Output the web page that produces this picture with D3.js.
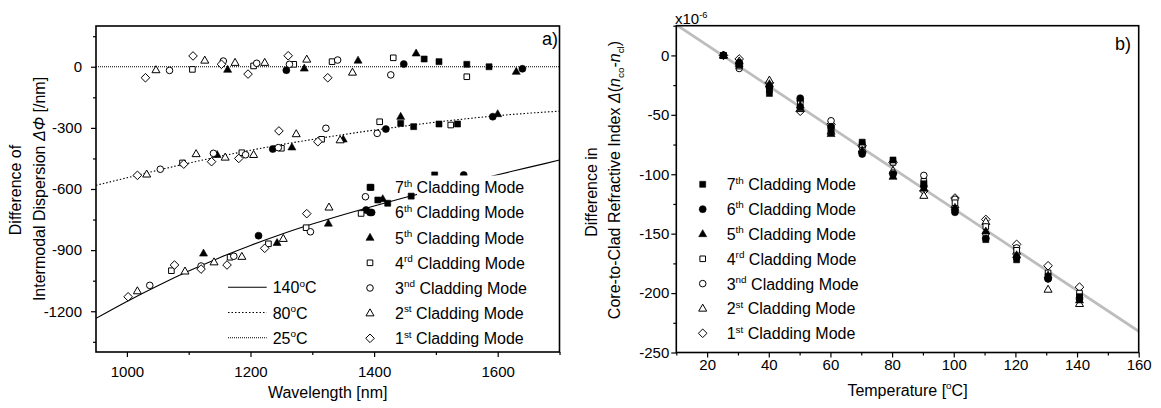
<!DOCTYPE html>
<html><head><meta charset="utf-8">
<script src="https://cdn.jsdelivr.net/npm/d3@7"></script>
<style>
body{margin:0;background:#fff;}
svg text{font-family:"Liberation Sans",Arial,sans-serif;fill:#000;}
</style></head><body>
<svg id="c" width="1161" height="408"></svg>
<script>
// ---------------- DATA ----------------
const modeNum = ["7","6","5","4","3","2","1"];
const modeSup = ["th","th","th","rd","nd","st","st"];
const modeShape = ["square","circle","triangle","square","circle","triangle","diamond"];
const modeFilled = [true,true,true,false,false,false,false];

// panel a) : [wavelength nm, dispersion difference /nm], one list per mode (7th..1st)
const disp25 = [
  [[1481,38],[1505,25],[1550,12],[1586,0]],
  [[1258,-17],[1448,13],[1640,-10]],
  [[1163,-14],[1287,-8],[1374,31],[1468,66],[1630,-24]],
  [[1106,-13],[1205,4],[1270,12],[1332,25],[1431,44],[1550,-49]],
  [[1069,-18],[1156,28],[1210,17],[1263,12],[1341,33],[1427,-40]],
  [[1047,-16],[1126,31],[1175,20],[1223,20],[1291,36],[1365,-28]],
  [[1030,-54],[1107,53],[1153,12],[1196,-36],[1261,54],[1325,-54]]
];
const disp80 = [
  [[1443,-278],[1464,-294],[1505,-281],[1535,-281]],
  [[1236,-404],[1419,-306],[1592,-245]],
  [[1146,-432],[1267,-395],[1350,-356],[1443,-245],[1600,-232]],
  [[1090,-472],[1186,-422],[1250,-400],[1315,-356],[1409,-270],[1524,-286]],
  [[1054,-503],[1140,-425],[1192,-432],[1245,-397],[1322,-302],[1405,-327]],
  [[1032,-528],[1112,-428],[1159,-445],[1205,-432],[1274,-330],[1345,-360]],
  [[1017,-533],[1092,-478],[1137,-466],[1181,-450],[1246,-315],[1309,-368]]
];
const disp140 = [
  [[1395,-592],[1406,-654],[1422,-670],[1460,-635],[1484,-646],[1498,-531]],
  [[1213,-829],[1387,-703],[1396,-715],[1545,-531]],
  [[1124,-916],[1243,-864],[1326,-769],[1414,-649]],
  [[1072,-1001],[1167,-935],[1229,-869],[1290,-790],[1379,-720]],
  [[1037,-1073],[1120,-978],[1173,-930],[1297,-810],[1386,-638]],
  [[1017,-1101],[1094,-1004],[1141,-959],[1186,-932],[1253,-844],[1327,-690]],
  [[1002,-1129],[1077,-973],[1120,-993],[1162,-973],[1223,-891],[1291,-721]]
];
const curveWl  = [950,1000,1050,1100,1150,1200,1250,1300,1350,1400,1450,1500,1550,1600,1650,1700];
const curve140 = [-1235,-1152,-1075,-1003,-937,-877,-822,-772,-726,-683,-642,-603,-566,-530,-494,-458];
const curve80  = [-582,-545,-508,-473,-440,-410,-382,-357,-333,-311,-291,-272,-255,-240,-228,-218];
const curve25  = [0,0,0,0,0,0,0,0,0,0,0,0,0,0,0,0];
const tempLabels = ["140","80","25"];
const axA_xMajor = [1000,1200,1400,1600];
const axA_xMinor = [1100,1300,1500,1700];
const axA_yMajor = [-1200,-900,-600,-300,0];
const axA_yMinor = [-1350,-1050,-750,-450,-150,150];

// panel b) : temperature [C] and index difference [x1e-6] per mode (7th..1st)
const temps = [25.3,30.4,40.2,50.2,60.2,70.3,80.3,90.3,100.4,110.4,120.4,130.6,140.8];
const ri7 = [0,-8,-32,-44,-63,-73,-88,-108,-130,-155,-172,-186,-203];
const ri6 = [0,-6,-27,-36,-60,-83,-100,-110,-132,-154,-170,-188,-205];
const ri5 = [0,-7,-24,-42,-66,-80,-102,-112,-128,-148,-168,-185,-206];
const ri4 = [0,-9,-29,-40,-62,-75,-90,-106,-124,-144,-164,-183,-200];
const ri3 = [0,-11,-26,-38,-55,-77,-99,-101,-121,-150,-162,-188,-204];
const ri2 = [0,-5,-21,-45,-64,-79,-97,-118,-126,-140,-165,-197,-209];
const ri1 = [0,-3,-23,-47,-58,-76,-90,-114,-120,-138,-159,-177,-195];
const fitT = [10,160];
const fitV = [25.8,-232.2];
const axB_xMajor = [20,40,60,80,100,120,140,160];
const axB_xMinor = [10,30,50,70,90,110,130,150];
const axB_yMajor = [-250,-200,-150,-100,-50,0];
const axB_yMinor = [-225,-175,-125,-75,-25,25];

// ---------------- HELPERS ----------------
const svg = d3.select("#c");
const fmt = d => String(d);
function markerPath(shape, filled){
  if(shape==="square"){const s=filled?3:2.8;return `M${-s},${-s}H${s}V${s}H${-s}Z`;}
  if(shape==="circle"){const r=filled?3.5:3.3;return `M${r},0A${r},${r} 0 1 1 ${-r},0A${r},${r} 0 1 1 ${r},0Z`;}
  if(shape==="triangle"){return "M0,-4.3L4,2.7L-4,2.7Z";}
  return "M0,-4.3L4.3,0L0,4.3L-4.3,0Z";
}
function drawMarker(g, i, x, y){
  g.append("path").attr("d", markerPath(modeShape[i], modeFilled[i]))
    .attr("transform",`translate(${x},${y})`)
    .attr("fill", modeFilled[i] ? "#000" : "#fff")
    .attr("stroke","#000").attr("stroke-width", modeFilled[i]?0.6:1);
}
function rich(t, parts, size){
  let shift = 0;
  parts.forEach(([s,kind])=>{
    const ts = t.append("tspan").text(s);
    let target=0, fs=size;
    if(kind==="sup"){target=-size*0.42; fs=size*0.62;}
    if(kind==="sub"){target=size*0.28; fs=size*0.62;}
    ts.attr("font-size",fs).attr("dy",target-shift);
    if(kind==="i"){ts.attr("font-style","italic");}
    shift=target;
  });
}
function axes(g, x, y, xMaj, xMin, yMaj, yMin, xPad, yPad){
  const [x0,x1]=x.range(), [y0,y1]=y.range();
  const bx = g.append("g").attr("transform",`translate(0,${y0})`);
  bx.call(d3.axisBottom(x).tickValues(xMaj).tickSize(5).tickPadding(xPad).tickFormat(fmt));
  const bxm = g.append("g").attr("transform",`translate(0,${y0})`);
  bxm.call(d3.axisBottom(x).tickValues(xMin).tickSize(3).tickFormat(""));
  const ly = g.append("g").attr("transform",`translate(${x0},0)`);
  ly.call(d3.axisLeft(y).tickValues(yMaj).tickSize(5).tickPadding(yPad).tickFormat(fmt));
  const lym = g.append("g").attr("transform",`translate(${x0},0)`);
  lym.call(d3.axisLeft(y).tickValues(yMin).tickSize(3).tickFormat(""));
  g.selectAll(".domain").remove();
  g.selectAll(".tick line").attr("stroke","#000").attr("stroke-width",1.2);
  g.selectAll(".tick text").attr("font-size",15).attr("font-family",'"Liberation Sans",Arial,sans-serif').attr("fill","#111");
  g.append("rect").attr("x",x0).attr("y",y1).attr("width",x1-x0).attr("height",y0-y1)
    .attr("fill","none").attr("stroke","#000").attr("stroke-width",1.6);
}

// ---------------- PANEL A ----------------
const xa = d3.scaleLinear().domain([950,1700]).range([96,559.5]);
const ya = d3.scaleLinear().domain([-1400,200]).range([352,26]);
const ga = svg.append("g");
ga.append("clipPath").attr("id","clipA").append("rect").attr("x",96).attr("y",26).attr("width",463.5).attr("height",326);
const line = d3.line().x(d=>xa(d[0])).y(d=>ya(d[1])).curve(d3.curveMonotoneX);
const curves = [curve140, curve80, curve25];
const dashes = [null, "1.5,2", "1,1"];
curves.forEach((c,k)=>{
  ga.append("path").attr("clip-path","url(#clipA)")
    .attr("d", line(curveWl.map((w,i)=>[w,c[i]])))
    .attr("fill","none").attr("stroke","#000").attr("stroke-width",1.1)
    .attr("stroke-dasharray", dashes[k]);
});
[disp25, disp80, disp140].forEach(set=>{
  set.forEach((pts,i)=>pts.forEach(p=>drawMarker(ga,i,xa(p[0]),ya(p[1]))));
});
// legend box (white background covering points)
ga.append("rect").attr("x",417).attr("y",175.5).attr("width",141).attr("height",175).attr("fill","#fff");
modeNum.forEach((n,i)=>{
  const cy = 187.3 + i*25.17;
  drawMarker(ga,i,370,cy);
  const t = ga.append("text").attr("x",395).attr("y",cy+6);
  rich(t,[[n,""],[modeSup[i],"sup"],[" Cladding Mode",""]],16);
});
tempLabels.forEach((lab,k)=>{
  const cy = 287.3 + k*25.2;
  ga.append("line").attr("x1",228).attr("x2",266.7).attr("y1",cy).attr("y2",cy)
    .attr("stroke","#000").attr("stroke-width",1.1).attr("stroke-dasharray",dashes[k]);
  const t = ga.append("text").attr("x",272.7).attr("y",cy+6);
  rich(t,[[lab,""],["o","sup"],["C",""]],16);
});
axes(ga, xa, ya, axA_xMajor, axA_xMinor, axA_yMajor, axA_yMinor, 9, 9);
ga.append("text").attr("x",558).attr("y",45).attr("text-anchor","end").attr("font-size",18).text("a)");
ga.append("text").attr("x",327.7).attr("y",398).attr("text-anchor","middle").attr("font-size",16).text("Wavelength [nm]");
ga.append("text").attr("transform","translate(21,190) rotate(-90)").attr("text-anchor","middle").attr("font-size",16).text("Difference of");
{
  const t = ga.append("text").attr("transform","translate(45,189) rotate(-90)").attr("text-anchor","middle");
  rich(t,[["Intermodal Dispersion ",""],["ΔΦ","i"],[" [/nm]",""]],16);
}

// ---------------- PANEL B ----------------
const xb = d3.scaleLinear().domain([10,160]).range([676.3,1138.7]);
const yb = d3.scaleLinear().domain([-250,25]).range([352.5,25.7]);
const gb = svg.append("g");
gb.append("clipPath").attr("id","clipB").append("rect").attr("x",676.3).attr("y",25.7).attr("width",462.4).attr("height",326.8);
gb.append("path").attr("clip-path","url(#clipB)")
  .attr("d", d3.line()(fitT.map((t,i)=>[xb(t),yb(fitV[i])])))
  .attr("stroke","#bdbdbd").attr("stroke-width",2.8).attr("fill","none");
const riAll = [ri7,ri6,ri5,ri4,ri3,ri2,ri1];
for(let i=riAll.length-1;i>=0;i--){
  riAll[i].forEach((v,j)=>drawMarker(gb,i,xb(temps[j]),yb(v)));
}
modeNum.forEach((n,i)=>{
  const cy = 184.3 + i*24.83;
  drawMarker(gb,i,702.7,cy);
  const t = gb.append("text").attr("x",726.7).attr("y",cy+6);
  rich(t,[[n,""],[modeSup[i],"sup"],[" Cladding Mode",""]],16);
});
axes(gb, xb, yb, axB_xMajor, axB_xMinor, axB_yMajor, axB_yMinor, 2, 2);
gb.append("text").attr("x",1131).attr("y",50).attr("text-anchor","end").attr("font-size",18).text("b)");
{
  const t = gb.append("text").attr("x",675).attr("y",24);
  rich(t,[["x10",""],["-6","sup"]],15);
}
{
  const t = gb.append("text").attr("x",907.5).attr("y",396).attr("text-anchor","middle");
  rich(t,[["Temperature [",""],["o","sup"],["C]",""]],16);
}
gb.append("text").attr("transform","translate(597,192) rotate(-90)").attr("text-anchor","middle").attr("font-size",16).text("Difference in");
{
  const t = gb.append("text").attr("transform","translate(620,180) rotate(-90)").attr("text-anchor","middle");
  rich(t,[["Core-to-Clad Refractive Index ",""],["Δ","i"],["(",""],["n","i"],["co","sub"],["-",""],["n","i"],["cl","sub"],[")",""]],16);
}
</script>
</body></html>
